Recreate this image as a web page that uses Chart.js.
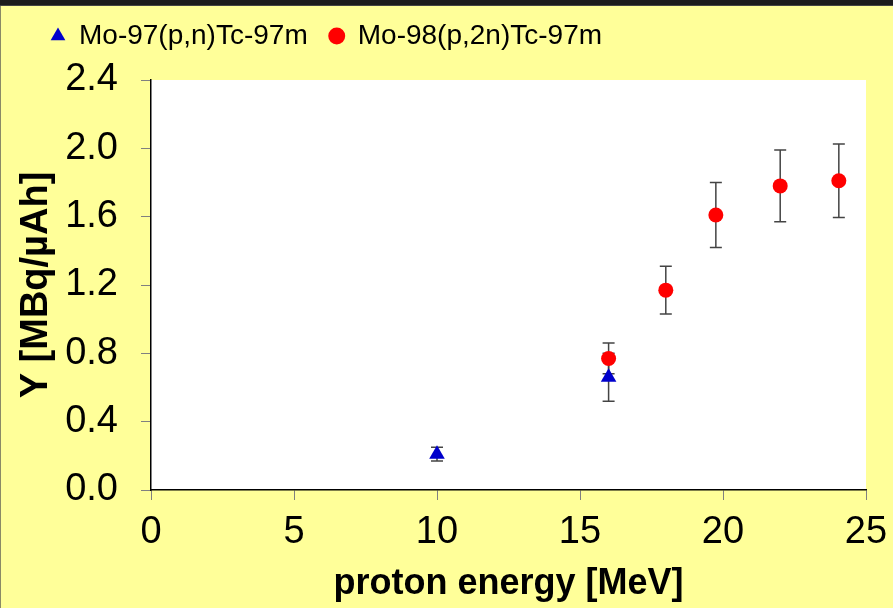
<!DOCTYPE html>
<html>
<head>
<meta charset="utf-8">
<title>Tc-97m yield</title>
<script src="https://cdn.jsdelivr.net/npm/chart.js@4.4.0/dist/chart.umd.min.js"></script>
<style>
    html, body { margin: 0; padding: 0; background: #FFFF99; overflow: hidden; }
    #frame { position: relative; width: 893px; height: 608px; }
    #yieldChart { position: absolute; left: 0; top: 0; }
    .band { position: absolute; left: 0; top: 0; width: 893px; height: 5px; background: #1c1c1c; border-bottom: 1px solid #444; }
    .edge { position: absolute; left: 0; top: 0; width: 1px; height: 608px; background: #8a8a66; }
</style>
</head>
<body>
<div id="frame">
    <canvas id="yieldChart" width="893" height="608"></canvas>
    <div class="edge"></div>
    <div class="band"></div>
</div>
<script>
// Data
const energyMo97 = [10.0, 16.0];
const yieldMo97 = [0.21, 0.66];
const errMo97 = [0.04, 0.14];

const energyMo98 = [16.0, 18.0, 19.75, 22.0, 24.05];
const yieldMo98 = [0.77, 1.17, 1.61, 1.78, 1.81];
const errMo98 = [0.09, 0.14, 0.19, 0.21, 0.215];

const xRange = [0, 25];
const yRange = [0, 2.4];

const FONT = "'Liberation Sans', Arial, sans-serif";

document.addEventListener('DOMContentLoaded', function() {
    initializeChart();
});

function toPoints(xs, ys) {
    return xs.map((x, i) => ({ x: x, y: ys[i] }));
}

// white plot area on the yellow page
const plotBackground = {
    id: 'plotBackground',
    beforeDraw(chart) {
        const { ctx, chartArea } = chart;
        ctx.save();
        ctx.fillStyle = '#ffffff';
        ctx.fillRect(chartArea.left, chartArea.top, chartArea.right - chartArea.left, chartArea.bottom - chartArea.top);
        ctx.restore();
    }
};

// vertical error bars, taken from dataset.errors
const errorBars = {
    id: 'errorBars',
    beforeDatasetsDraw(chart) {
        const { ctx, scales } = chart;
        ctx.save();
        ctx.strokeStyle = '#444444';
        ctx.lineWidth = 1.5;
        chart.data.datasets.forEach(ds => {
            ds.data.forEach((p, i) => {
                const e = ds.errors[i];
                const px = scales.x.getPixelForValue(p.x);
                const top = scales.y.getPixelForValue(p.y + e);
                const bot = scales.y.getPixelForValue(p.y - e);
                ctx.beginPath();
                ctx.moveTo(px, top);
                ctx.lineTo(px, bot);
                ctx.moveTo(px - 6, top);
                ctx.lineTo(px + 6, top);
                ctx.moveTo(px - 6, bot);
                ctx.lineTo(px + 6, bot);
                ctx.stroke();
            });
        });
        ctx.restore();
    }
};

// make the legend take the whole band above the plot
const legendHeight = {
    id: 'legendHeight',
    beforeInit(chart) {
        const fit = chart.legend.fit;
        chart.legend.fit = function() {
            fit.call(this);
            this.height = 80;
        };
    }
};

function initializeChart() {
    const ctx = document.getElementById('yieldChart');
    if (!ctx) return;

    new Chart(ctx, {
        type: 'scatter',
        data: {
            datasets: [{
                label: 'Mo-97(p,n)Tc-97m',
                data: toPoints(energyMo97, yieldMo97),
                errors: errMo97,
                pointStyle: 'triangle',
                pointRadius: 9,
                pointHoverRadius: 9,
                backgroundColor: '#0000CC',
                borderColor: '#0000CC',
                borderWidth: 0
            }, {
                label: 'Mo-98(p,2n)Tc-97m',
                data: toPoints(energyMo98, yieldMo98),
                errors: errMo98,
                pointStyle: 'circle',
                pointRadius: 7.5,
                pointHoverRadius: 7.5,
                backgroundColor: '#FF0000',
                borderColor: '#FF0000',
                borderWidth: 0
            }]
        },
        options: {
            responsive: false,
            animation: false,
            devicePixelRatio: 1,
            layout: {
                padding: { left: 29, right: 27, top: 0, bottom: 0 }
            },
            plugins: {
                legend: {
                    position: 'top',
                    align: 'start',
                    labels: {
                        usePointStyle: true,
                        boxHeight: 12,
                        boxWidth: 14,
                        padding: 22,
                        color: '#000000',
                        font: { family: FONT, size: 28 }
                    }
                },
                tooltip: { enabled: false }
            },
            scales: {
                x: {
                    type: 'linear',
                    min: xRange[0],
                    max: xRange[1],
                    afterFit: scale => {
                        scale.height = 118;
                        scale.paddingRight = 0;
                    },
                    border: { color: '#000000', width: 1.5 },
                    grid: { drawOnChartArea: false, drawTicks: true, tickLength: 10, color: '#808080' },
                    ticks: {
                        stepSize: 5,
                        padding: 10,
                        color: '#000000',
                        font: { family: FONT, size: 38 }
                    },
                    title: {
                        display: true,
                        text: 'proton energy [MeV]',
                        color: '#000000',
                        padding: { top: 0, bottom: 2 },
                        font: { family: FONT, size: 36, weight: 'bold' }
                    }
                },
                y: {
                    type: 'linear',
                    min: yRange[0],
                    max: yRange[1],
                    afterFit: scale => { scale.width = 122; },
                    border: { color: '#000000', width: 1.5 },
                    grid: { drawOnChartArea: false, drawTicks: true, tickLength: 10, color: '#808080' },
                    ticks: {
                        stepSize: 0.4,
                        padding: 23,
                        color: '#000000',
                        font: { family: FONT, size: 38 },
                        callback: v => v.toFixed(1)
                    },
                    title: {
                        display: true,
                        text: 'Y [MBq/µAh]',
                        color: '#000000',
                        padding: { top: -11, bottom: 0 },
                        font: { family: FONT, size: 38, weight: 'bold', lineHeight: 1 }
                    }
                }
            }
        },
        plugins: [plotBackground, errorBars, legendHeight]
    });
}
</script>
</body>
</html>
